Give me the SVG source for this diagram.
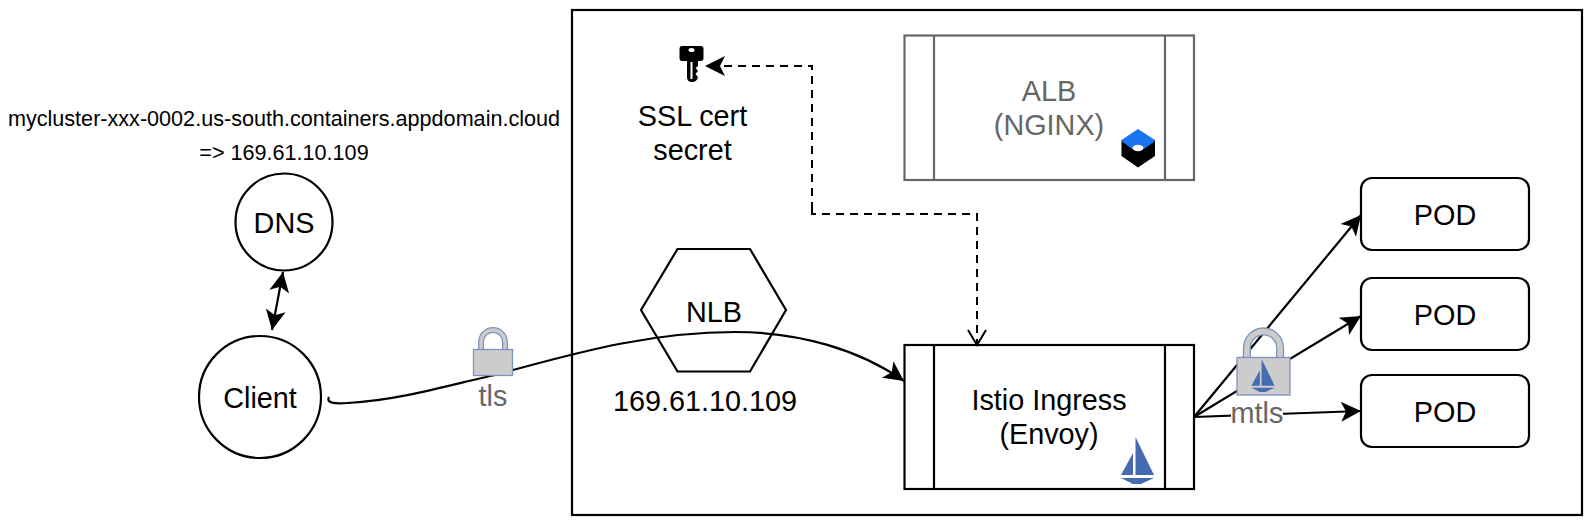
<svg xmlns="http://www.w3.org/2000/svg" width="1588" height="525" viewBox="0 0 1588 525">
<style>
text{font-family:"Liberation Sans",Arial,sans-serif;text-anchor:middle;fill:#000}
.t{font-size:28.8px}
.s{font-size:21.6px}
text.g{fill:#666}
.n{fill:#fff;stroke:#000;stroke-width:2.2}
.a{fill:none;stroke:#000;stroke-width:2.2}
.d{fill:none;stroke:#000;stroke-width:2;stroke-dasharray:8 6}
.lock{fill:#ccc;stroke:#7d93bd;stroke-width:1.3}
.sail{fill:#466bb0}
</style>
<defs>
<marker id="ar" markerUnits="userSpaceOnUse" markerWidth="22" markerHeight="20" refX="20" refY="10" orient="auto-start-reverse" overflow="visible"><path d="M0 0L20 10L0 20L5 10Z" fill="#000"/></marker>
<marker id="op" markerUnits="userSpaceOnUse" markerWidth="18" markerHeight="20" refX="16" refY="9" orient="auto" overflow="visible"><path d="M1 0L16 9L1 18" fill="none" stroke="#000" stroke-width="2"/></marker>
<symbol id="boat" viewBox="0 0 33 47" overflow="visible">
<path class="sail" d="M14.500 0L33 38L14.500 38ZM12 16L12 38L0 38ZM0 41L33 41L20 47L12 47Z"/>
</symbol>
</defs>
<rect id="frame" x="572" y="10" width="1010" height="505" fill="#fff" stroke="#000" stroke-width="2.2"/>
<g id="dns"><circle class="n" cx="284" cy="222" r="48.500"/><text class="t" x="284" y="233">DNS</text></g>
<g id="client"><circle class="n" cx="260" cy="397" r="61"/><text class="t" x="260" y="408">Client</text></g>
<g id="dns-label"><text class="s" x="284" y="126">mycluster-xxx-0002.us-south.containers.appdomain.cloud</text><text class="s" x="284" y="160">=&gt; 169.61.10.109</text></g>
<g id="nlb"><path class="n" d="M641 310L677.500 249H750L786 310L750 371.500H677.500Z"/><text class="t" x="714" y="322">NLB</text><text class="t" x="705" y="411">169.61.10.109</text></g>
<g id="secret">
<path d="M682 46H701Q703.500 46 703.500 49V58Q703.500 61 700.500 61H698V66L695.500 68L698 71L695.500 74L698 77Q697 82 692 82Q687 82 687 77V61H682Q679.500 61 679.500 58V49Q679.500 46 682 46Z" fill="#000"/>
<ellipse cx="691.500" cy="50" rx="3" ry="2" fill="#fff"/><rect x="690.500" y="62" width="2" height="17" fill="#fff"/>
<text class="t" x="692.500" y="126">SSL cert</text><text class="t" x="692.500" y="160">secret</text></g>
<g id="alb">
<rect x="904.500" y="35.500" width="289.500" height="144.500" fill="#fff" stroke="#666" stroke-width="2.200"/>
<path d="M934 35.500V180M1165 35.500V180" stroke="#666" stroke-width="2.200" fill="none"/>
<text class="t g" x="1049" y="101">ALB</text><text class="t g" x="1049" y="135">(NGINX)</text>
<path d="M1121.500 140V156L1138 167.500L1155 156V140Z" fill="#000"/>
<path d="M1138 129L1155 140V141L1144 149Q1138 144 1132 149L1121.500 141V140Z" fill="#1a73f0"/>
<ellipse cx="1138" cy="148" rx="5.500" ry="3.200" fill="#fff"/>
</g>
<g id="ingress">
<rect class="n" x="904.500" y="345" width="289.500" height="144"/>
<path class="a" d="M934 345V489M1165 345V489"/>
<text class="t" x="1049" y="410">Istio Ingress</text><text class="t" x="1049" y="444">(Envoy)</text>
<use href="#boat" x="1121" y="437" width="33" height="47"/>
</g>
<g id="pod1"><rect class="n" x="1361" y="178" width="168" height="72" rx="11"/><text class="t" x="1445" y="225">POD</text></g>
<g id="pod2"><rect class="n" x="1361" y="278" width="168" height="72" rx="11"/><text class="t" x="1445" y="325">POD</text></g>
<g id="pod3"><rect class="n" x="1361" y="375" width="168" height="72" rx="11"/><text class="t" x="1445" y="422">POD</text></g>
<g id="connectors">
<path class="a" d="M329 397C326 403 334 404 348 403C400 400 450 385 490 376C560 358 640 332 735 332C800 332 860 350 904 381" marker-end="url(#ar)"/>
<path class="a" d="M283 272L272 330" marker-start="url(#ar)" marker-end="url(#ar)"/>
<path class="d" d="M812 210L812 66L705 66" marker-end="url(#ar)"/>
<path class="d" d="M812 210V214H977V345" marker-end="url(#op)"/>
<path class="a" d="M1194 417L1361 215" marker-end="url(#ar)"/>
<path class="a" d="M1194 417L1361 316" marker-end="url(#ar)"/>
<path class="a" d="M1194 417L1361 411" marker-end="url(#ar)"/>
</g>
<g id="tls">
<path class="lock" d="M478.700 350V342A14.300 14.300 0 0 1 507.300 342V350H502.700V342A9.700 9.700 0 0 0 483.300 342V350Z"/>
<rect class="lock" x="473.500" y="349.500" width="39" height="26"/>
<text class="t g" x="493" y="406">tls</text>
</g>
<g id="mtls">
<path class="lock" d="M1243.500 358V348A20 20 0 0 1 1283.500 348V358H1276.700V348A13.200 13.200 0 0 0 1250.300 348V358Z"/>
<rect class="lock" x="1237" y="357.500" width="53" height="37.500"/>
<use href="#boat" x="1251" y="359" width="24" height="33"/>
<rect x="1231" y="404" width="52" height="24" fill="#fff"/>
<text class="t g" x="1257" y="423">mtls</text>
</g>
</svg>
